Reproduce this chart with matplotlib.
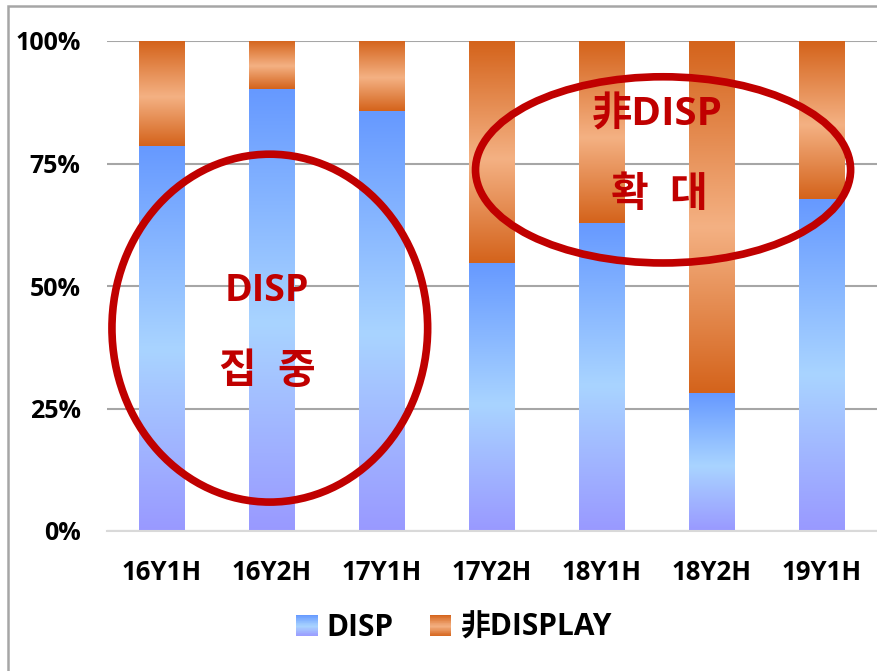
import numpy as np
import matplotlib
matplotlib.use("Agg")
import matplotlib.pyplot as plt
from matplotlib.colors import LinearSegmentedColormap
from matplotlib.patches import Ellipse, Rectangle
from matplotlib.legend_handler import HandlerBase

plt.rcParams['font.family'] = ['Open Sans', 'Noto Sans CJK KR', 'DejaVu Sans']

# Half-year periods and the share of DISP vs non-DISPLAY sales
categories = ['16Y1H', '16Y2H', '17Y1H', '17Y2H', '18Y1H', '18Y2H', '19Y1H']
disp_share = [0.786, 0.902, 0.857, 0.547, 0.629, 0.281, 0.678]
non_disp_share = [1 - v for v in disp_share]
series_names = ['DISP', '非DISPLAY']
y_ticks = [0, 0.25, 0.5, 0.75, 1.0]
y_tick_labels = ['0%', '25%', '50%', '75%', '100%']

# Vertical gradients (top -> bottom) used to fill each segment
blue_cmap = LinearSegmentedColormap.from_list(
    'blue_grad', [(0.0, '#6699FF'), (0.53, '#A9D4FF'), (1.0, '#9999FF')])
orange_cmap = LinearSegmentedColormap.from_list(
    'orange_grad', [(0.0, '#D4631B'), (0.53, '#F4B183'), (1.0, '#D4631B')])

W, H = 877, 671
fig = plt.figure(figsize=(W / 100, H / 100), dpi=100)
ax = fig.add_axes([107 / W, 1 - 531 / H, 770 / W, 490 / H])

x = np.arange(len(categories))
bar_w = 0.41
bars_disp = ax.bar(x, disp_share, width=bar_w, color='none', edgecolor='none', zorder=3)
bars_non = ax.bar(x, non_disp_share, width=bar_w, bottom=disp_share,
                  color='none', edgecolor='none', zorder=3)

grad = np.linspace(0, 1, 256).reshape(-1, 1)


def fill_gradient(patch, cmap):
    x0, y0 = patch.get_x(), patch.get_y()
    w, h = patch.get_width(), patch.get_height()
    ax.imshow(grad, cmap=cmap, aspect='auto', origin='upper',
              extent=(x0, x0 + w, y0, y0 + h), zorder=3, interpolation='bilinear')


for p in bars_disp:
    fill_gradient(p, blue_cmap)
for p in bars_non:
    fill_gradient(p, orange_cmap)

ax.set_xlim(-0.5, len(categories) - 0.5)
ax.set_ylim(0, 1.0)
ax.set_yticks(y_ticks)
ax.set_yticklabels(y_tick_labels, fontsize=18, fontweight='bold')
ax.set_xticks(x)
ax.set_xticklabels(categories, fontsize=18.5, fontweight='bold')
ax.tick_params(axis='both', length=0)
ax.tick_params(axis='y', pad=19)
ax.tick_params(axis='x', pad=20)
for s in ['left', 'right', 'top']:
    ax.spines[s].set_visible(False)
ax.spines['bottom'].set_color('#D9D9D9')
ax.spines['bottom'].set_linewidth(1.5)
ax.spines['bottom'].set_zorder(4)
ax.yaxis.grid(True, color='#A6A6A6', linewidth=1.5, zorder=0)
ax.set_axisbelow(True)

# Highlight ellipses and their captions
red = '#C00000'
ax.add_patch(Ellipse((0.98, 0.414), 2.87, 0.71, fill=False, edgecolor=red,
                     linewidth=5.5, zorder=5, clip_on=False))
ax.add_patch(Ellipse((4.555, 0.737), 3.41, 0.38, fill=False, edgecolor=red,
                     linewidth=5.5, zorder=5, clip_on=False))
txt_kw = dict(color=red, fontweight='bold', ha='center', va='center', zorder=6)
ax.text(0.955, 0.49, 'DISP', fontsize=27, **txt_kw)
ax.text(0.955, 0.324, '집  중', fontsize=29.5, **txt_kw)
ax.text(4.5, 0.849, '非DISP', fontsize=29, **txt_kw)
ax.text(4.52, 0.684, '확  대', fontsize=29.5, **txt_kw)


# Legend keys drawn as small vertical gradients
class GradientHandler(HandlerBase):
    def __init__(self, cmap):
        super().__init__()
        self.cmap = cmap

    def create_artists(self, legend, orig_handle, xdescent, ydescent,
                       width, height, fontsize, trans):
        n = 30
        side = 15.5
        x0 = -xdescent + (width - side) / 2
        y0 = -ydescent + (height - side) / 2
        strips = []
        for i in range(n):
            c = self.cmap(1 - (i + 0.5) / n)
            strips.append(Rectangle((x0, y0 + side * i / n), side, side / n + 0.05,
                                    facecolor=c, edgecolor='none', transform=trans))
        return strips


h1 = Rectangle((0, 0), 1, 1)
h2 = Rectangle((0, 0), 1, 1)
fig.legend([h1, h2], series_names, loc='center', bbox_to_anchor=(454 / W, 1 - 628 / H),
           ncol=2, frameon=False, prop={'size': 21.5, 'weight': 'bold'},
           handler_map={h1: GradientHandler(blue_cmap), h2: GradientHandler(orange_cmap)},
           handlelength=0.72, handletextpad=0.3, columnspacing=1.2)

# Chart frame
fig.patches.append(Rectangle((8 / W, -0.5), 2.0, 1.5 - 6 / H, transform=fig.transFigure,
                             fill=False, edgecolor='#A6A6A6', linewidth=1.8))

fig.savefig('out.png', dpi=100)
